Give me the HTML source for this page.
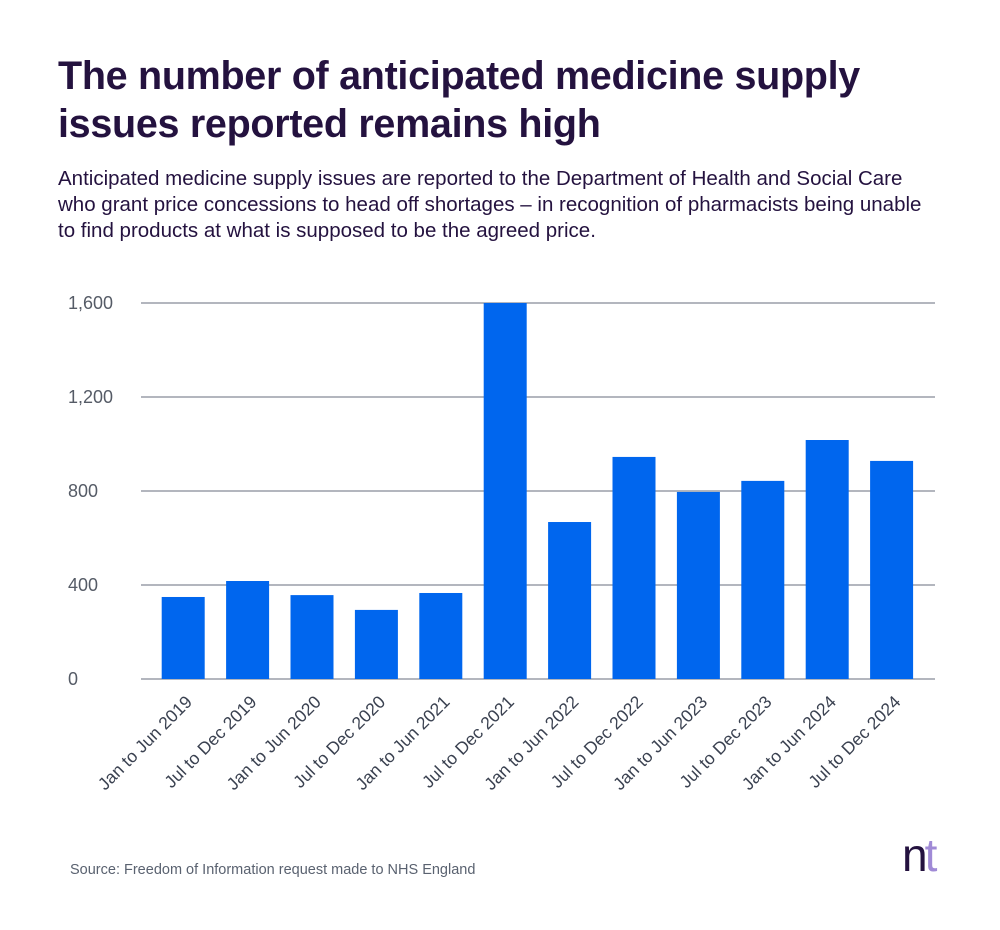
<!DOCTYPE html>
<html><head><meta charset="utf-8"><style>
body{margin:0;width:1000px;height:930px;background:#fff;font-family:"Liberation Sans",sans-serif;overflow:hidden;position:relative}
h1{position:absolute;left:58px;top:52px;margin:0;font-size:39.5px;line-height:48px;color:#24123f;font-weight:bold;width:880px;letter-spacing:-0.3px}
.sub{position:absolute;left:58px;top:166px;margin:0;font-size:20.5px;line-height:26px;color:#24123f;white-space:nowrap}
.src{position:absolute;left:70px;top:862px;font-size:14.5px;color:#5a6270}
.logo{position:absolute;left:902px;top:830px;font-size:46px;font-weight:normal;letter-spacing:-3px;line-height:50px}
</style></head><body>
<h1>The number of anticipated medicine supply issues reported remains high</h1>
<p class="sub">Anticipated medicine supply issues are reported to the Department of Health and Social Care<br>who grant price concessions to head off shortages – in recognition of pharmacists being unable<br>to find products at what is supposed to be the agreed price.</p>
<svg id="chart" width="1000" height="930" style="position:absolute;left:0;top:0"></svg>
<div class="src">Source: Freedom of Information request made to NHS England</div>
<div class="logo"><span style="color:#24123f">n</span><span style="color:#a08ad6">t</span></div>
<script>
const categories=["Jan to Jun 2019","Jul to Dec 2019","Jan to Jun 2020","Jul to Dec 2020","Jan to Jun 2021","Jul to Dec 2021","Jan to Jun 2022","Jul to Dec 2022","Jan to Jun 2023","Jul to Dec 2023","Jan to Jun 2024","Jul to Dec 2024"];
const values=[349,417,357,294,366,1600,668,945,796,843,1017,928];
const ticks=[0,400,800,1200,1600];
const tickLabels=["0","400","800","1,200","1,600"];
const svg=document.getElementById('chart');
const NS="http://www.w3.org/2000/svg";
const y=v=>679-v*(376/1600);
const x0=151,step=64.4,bw=43;
const x=i=>x0+i*step+step/2;
function mk(t,a){const e=document.createElementNS(NS,t);for(const k in a)e.setAttribute(k,a[k]);svg.appendChild(e);return e;}
ticks.forEach((t,i)=>{
 const l=mk('line',{x1:141,x2:935,y1:y(t),y2:y(t),stroke:'#9a9ea8','stroke-width':1.5});
 
 
 const tx=mk('text',{x:68,y:y(t)+6,'font-size':18,fill:'#555b66','font-family':'Liberation Sans, sans-serif'});
 tx.textContent=tickLabels[i];
 
 
});
values.forEach((v,i)=>{
 const r=mk('rect',{x:x(i)-bw/2,y:y(v),width:bw,height:y(0)-y(v),fill:'#0066ee'});
 
 
 const cx=x(i)+10,cy=703;
 const t=mk('text',{x:cx,y:cy,'font-size':17.5,fill:'#3a4150','text-anchor':'end','font-family':'Liberation Sans, sans-serif',transform:`rotate(-45 ${cx} ${cy})`});
 t.textContent=categories[i];
 
 
});
</script>
</body></html>
